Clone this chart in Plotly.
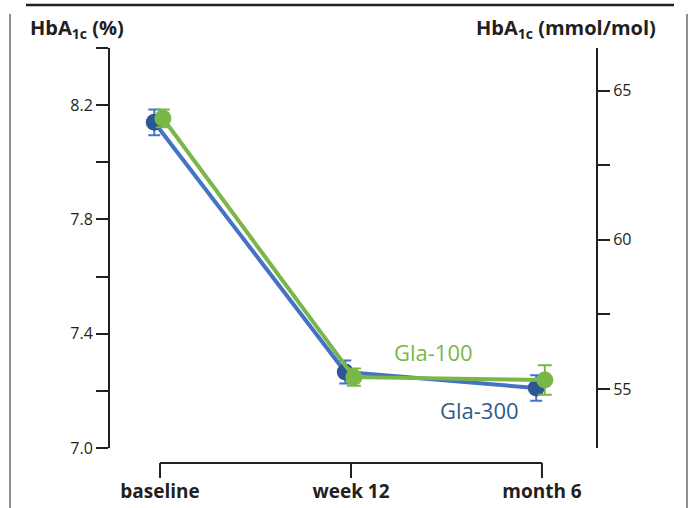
import plotly.graph_objects as go

categories = ["baseline", "week 12", "month 6"]
gla300 = [8.140, 7.266, 7.210]
gla300_err = [0.045, 0.040, 0.045]
gla100 = [8.154, 7.248, 7.238]
gla100_err = [0.031, 0.030, 0.052]

left_labels = [7.0, 7.4, 7.8, 8.2]
right_labels = [55, 60, 65]

W, H = 690, 508
L, R, T, B = 110, 596, 48, 448
FONT = "Open Sans"
INK = "#231F20"
BLUE_LINE = "#4472C4"
BLUE_DARK = "#2B5797"
GREEN = "#7AB648"

def fx(xp):
    return xp / W

def fy(yp):
    return 1 - yp / H

xi = list(range(len(categories)))
x300 = [i - 0.03 for i in xi]
x100 = [i + 0.015 for i in xi]

fig = go.Figure()
fig.add_trace(go.Scatter(
    x=x300, y=gla300, mode="lines+markers", name="Gla-300",
    line=dict(color=BLUE_LINE, width=4),
    marker=dict(color=BLUE_DARK, size=17),
    error_y=dict(type="data", array=gla300_err, color=BLUE_LINE, thickness=2, width=6),
))
fig.add_trace(go.Scatter(
    x=x100, y=gla100, mode="lines+markers", name="Gla-100",
    line=dict(color=GREEN, width=4),
    marker=dict(color=GREEN, size=17),
    error_y=dict(type="data", array=gla100_err, color=GREEN, thickness=2, width=7),
))
fig.add_trace(go.Scatter(x=[None], y=[None], yaxis="y2", showlegend=False, hoverinfo="skip"))

minor_style = dict(ticks="outside", ticklen=12, tickwidth=2, tickcolor=INK)

fig.update_layout(
    width=W, height=H,
    margin=dict(l=0, r=0, t=0, b=0, autoexpand=False),
    paper_bgcolor="white", plot_bgcolor="white",
    showlegend=False,
    font=dict(family=FONT, color=INK),
    xaxis=dict(
        domain=[fx(L), fx(R)],
        range=[-0.262, 2.283], tickvals=xi, ticktext=categories,
        showline=False, showgrid=False, zeroline=False, ticks="",
        ticklabelstandoff=30, automargin=False,
        tickfont=dict(family=FONT, size=19, color=INK, weight="bold"),
    ),
    yaxis=dict(
        domain=[fy(B), fy(T)],
        range=[7.0, 8.4], tickvals=left_labels, tickformat=".1f",
        showline=True, linecolor=INK, linewidth=2, automargin=False,
        ticks="outside", ticklen=12, tickwidth=2, tickcolor=INK,
        minor=dict(dtick=0.2, tick0=7.0, **minor_style),
        showgrid=False, zeroline=False,
        tickfont=dict(family=FONT, size=16, color=INK),
    ),
    yaxis2=dict(
        range=[53.02, 66.43], tickvals=right_labels,
        overlaying="y", side="right", automargin=False,
        showline=True, linecolor=INK, linewidth=2,
        ticks="outside", ticklen=12, tickwidth=2, tickcolor=INK,
        minor=dict(dtick=2.5, tick0=55, **minor_style),
        showgrid=False, zeroline=False,
        tickfont=dict(family=FONT, size=16, color=INK),
    ),
)

# frame: top rule and side lines
fig.add_shape(type="line", xref="paper", yref="paper", x0=fx(26), x1=fx(674), y0=fy(5), y1=fy(5),
              line=dict(color=INK, width=2.5))
fig.add_shape(type="line", xref="paper", yref="paper", x0=fx(10), x1=fx(10), y0=fy(14), y1=0,
              line=dict(color=INK, width=1))
fig.add_shape(type="line", xref="paper", yref="paper", x0=fx(687), x1=fx(687), y0=fy(14), y1=0,
              line=dict(color=INK, width=1))

# x bracket
yl = fy(463)
yt = fy(478)
fig.add_shape(type="line", xref="x", yref="paper", x0=xi[0], x1=xi[-1], y0=yl, y1=yl,
              line=dict(color=INK, width=2))
for i in xi:
    fig.add_shape(type="line", xref="x", yref="paper", x0=i, x1=i, y0=yl, y1=yt,
                  line=dict(color=INK, width=2))

# axis titles
fig.add_annotation(xref="paper", yref="paper", x=fx(28), y=fy(28), xanchor="left", yanchor="middle",
                   text="<b>HbA<sub>1c</sub> (%)</b>", showarrow=False,
                   font=dict(family=FONT, size=20, color=INK))
fig.add_annotation(xref="paper", yref="paper", x=fx(658), y=fy(28), xanchor="right", yanchor="middle",
                   text="<b>HbA<sub>1c</sub> (mmol/mol)</b>", showarrow=False,
                   font=dict(family=FONT, size=20, color=INK))

# series labels
fig.add_annotation(x=1.43, y=7.336, text="Gla-100", showarrow=False,
                   font=dict(family=FONT, size=22, color=GREEN))
fig.add_annotation(x=1.675, y=7.133, text="Gla-300", showarrow=False,
                   font=dict(family=FONT, size=22, color="#2E5C8A"))

fig.write_html("out.html", config={"displayModeBar": False},
               post_script="document.body.style.margin='0';document.body.style.overflow='hidden';")
